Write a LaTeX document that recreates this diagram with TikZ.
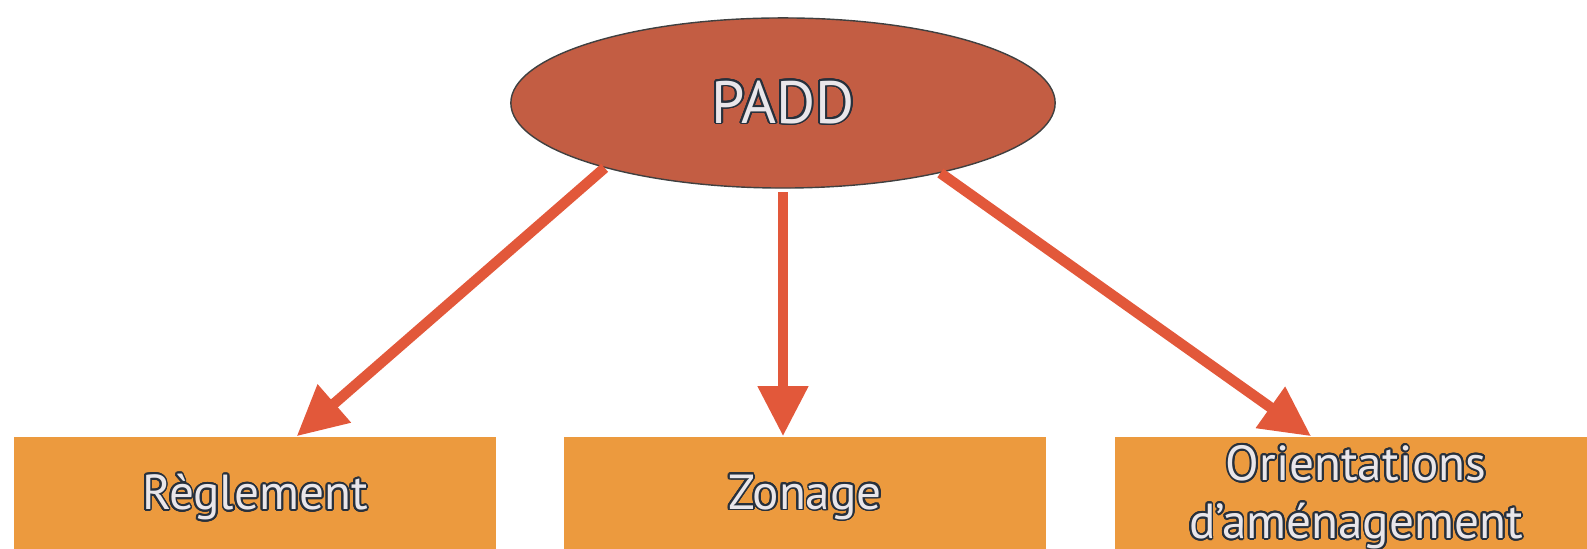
\documentclass[tikz,border=0pt]{standalone}
\usepackage{fontspec}
\setmainfont{PT Sans}
\usepackage{contour}
\contourlength{0.5pt}
\contournumber{24}
\usetikzlibrary{shapes,arrows.meta}
\definecolor{bubblefill}{HTML}{C35D43}
\definecolor{boxfill}{HTML}{EC9A3E}
\definecolor{linkcol}{HTML}{E2583A}
\definecolor{txtcol}{HTML}{27303C}
\definecolor{txtin}{HTML}{E9E6EA}
\newcommand\outl[1]{\textcolor{txtin}{\contour{txtcol}{#1}}}
\tikzset{
  bubble/.style={ellipse, fill=bubblefill, draw=black!75, thin, inner sep=0pt,
    minimum width=5.44cm, minimum height=1.70cm, font=\fontsize{17}{20}\selectfont},
  box/.style={rectangle, fill=boxfill, inner sep=0pt, minimum width=4.81cm,
    minimum height=1.22cm, align=center, font=\fontsize{14}{16.5}\selectfont},
  link/.style={linkcol, line width=3pt, -{Triangle[length=5mm,width=4.8mm]}}
}
\begin{document}
\begin{tikzpicture}[x=0.01cm, y=0.01cm]
\useasboundingbox (0,0) rectangle (1587,549);
% top
\node[bubble] (padd) at (783,446) {\outl{PADD}};
% boxes
\node[box] (regl) at (255,51) {\outl{Règlement}};
\node[box] (zon) at (805,51) {\outl{Zonage}};
\node[box] (orient) at (1356,51) {\outl{Orientations}\\\outl{d’aménagement}};
% arrows
\draw[link] (padd.-160) -- (regl.56);
\draw[link] ([yshift=-1pt]padd.south) -- (padd.south |- zon.north);
\draw[link] (padd.-24) -- (orient.126);
\end{tikzpicture}
\end{document}
